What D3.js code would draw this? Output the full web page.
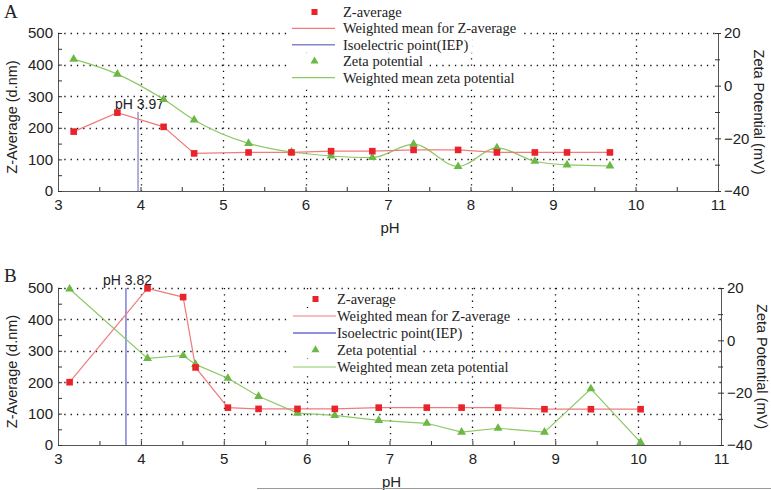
<!DOCTYPE html>
<html>
<head>
<meta charset="utf-8">
<script src="https://cdn.jsdelivr.net/npm/d3@7/dist/d3.min.js"></script>
<style>
  html, body { margin: 0; padding: 0; background: #fff; }
  svg { display: block; }
  .tick text { font-family: "Liberation Sans", Arial, sans-serif; font-size: 14px; fill: #222; }
</style>
</head>
<body>
<svg id="chart" width="771" height="490"></svg>
<script>
// ---------------- DATA ----------------
const phTicks = [3, 4, 5, 6, 7, 8, 9, 10, 11];
const phMinorTicks = [3.5, 4.5, 5.5, 6.5, 7.5, 8.5, 9.5, 10.5];
const zTicks = [0, 100, 200, 300, 400, 500];
const zMinorTicks = [50, 150, 250, 350, 450];
const zetaTicks = [-40, -20, 0, 20];
const zetaMinorTicks = [-30, -10, 10];
const zGridValues = [100, 200, 300, 400, 500];
const phGridValues = [4, 5, 6, 7, 8, 9, 10];

const legendLabels = ["Z-average", "Weighted mean for Z-average", "Isoelectric point(IEP)", "Zeta potential", "Weighted mean zeta potential"];

// Panel A
const phA = [3.19, 3.72, 4.28, 4.65, 5.31, 5.83, 6.31, 6.81, 7.31, 7.85, 8.32, 8.78, 9.17, 9.69];
const zA = [188, 248, 203, 119, 122, 122, 126, 126, 130, 130, 122, 122, 122, 122];
const zetaA = [10.1, 4.4, -5.2, -13.0, -21.9, -25.2, -26.7, -27.3, -22.2, -30.7, -23.6, -28.7, -30.1, -30.5];
const iepA = 3.97;
const iepTopA = 250;
const iepLabelA = "pH 3.97";

// Panel B
const phB = [3.14, 4.08, 4.51, 4.66, 5.05, 5.42, 5.89, 6.34, 6.87, 7.45, 7.87, 8.31, 8.87, 9.43, 10.03];
const zB = [200, 499, 471, 247, 119, 115, 115, 115, 119, 119, 119, 119, 114, 114, 114];
const zetaB = [19.6, -6.9, -5.8, -9.2, -14.5, -21.4, -27.8, -28.7, -30.6, -31.7, -35.1, -33.6, -35.1, -18.5, -39.0];
const iepB = 3.82;
const iepTopB = 500;
const iepLabelB = "pH 3.82";

// ---------------- DRAW ----------------
const svg = d3.select("#chart");
const sans = '"Liberation Sans", Arial, sans-serif';
const serif = '"Liberation Serif", "Times New Roman", serif';
const RED = "#e8232b", RED_LINE = "#ef7b7b";
const GREEN = "#6cb844", GREEN_LINE = "#8cc865";

function panel(cfg) {
  const x = d3.scaleLinear().domain([3, 11]).range([cfg.x0, cfg.x1]);
  const yL = d3.scaleLinear().domain([0, 500]).range([cfg.yb, cfg.yt]);
  const yR = d3.scaleLinear().domain([-40, 20]).range([cfg.yb, cfg.yt]);
  const g = svg.append("g");

  // grid
  const grid = g.append("g").attr("stroke", "#111").attr("stroke-width", 1.3)
    .attr("stroke-dasharray", "1.3,5").attr("fill", "none");
  grid.selectAll("line.h").data(zGridValues).join("line")
    .attr("x1", cfg.x0).attr("x2", cfg.x1)
    .attr("y1", d => Math.round(yL(d)) + 0.5).attr("y2", d => Math.round(yL(d)) + 0.5);
  grid.selectAll("line.v").data(phGridValues).join("line")
    .attr("y1", cfg.yt).attr("y2", cfg.yb)
    .attr("x1", d => Math.round(x(d)) + 0.5).attr("x2", d => Math.round(x(d)) + 0.5);

  // axes
  const axStyle = sel => { sel.selectAll("path, line").attr("stroke", "#333"); sel.select(".domain").attr("stroke", "#555"); };
  const gx = g.append("g").attr("transform", `translate(0,${cfg.yb})`)
    .call(d3.axisBottom(x).tickValues(phTicks).tickFormat(d3.format("d")).tickSizeInner(-4).tickSizeOuter(0).tickPadding(8));
  gx.call(axStyle);
  gx.selectAll(".tick text").style("font-size", "15px");
  g.append("g").attr("transform", `translate(0,${cfg.yb})`)
    .call(d3.axisBottom(x).tickValues(phMinorTicks).tickFormat("").tickSizeInner(-4).tickSizeOuter(0))
    .call(axStyle).select(".domain").remove();

  const gl = g.append("g").attr("transform", `translate(${cfg.x0},0)`)
    .call(d3.axisLeft(yL).tickValues(zTicks).tickSizeInner(-4).tickSizeOuter(0).tickPadding(5));
  gl.call(axStyle);
  gl.selectAll(".tick text").style("font-size", "15px");
  g.append("g").attr("transform", `translate(${cfg.x0},0)`)
    .call(d3.axisLeft(yL).tickValues(zMinorTicks).tickFormat("").tickSizeInner(-4).tickSizeOuter(0))
    .call(axStyle).select(".domain").remove();

  const gr = g.append("g").attr("transform", `translate(${cfg.x1},0)`)
    .call(d3.axisRight(yR).tickValues(zetaTicks).tickSizeInner(3).tickSizeOuter(0).tickPadding(3));
  gr.call(axStyle);
  gr.selectAll(".tick text").style("font-size", "15px");
  g.append("g").attr("transform", `translate(${cfg.x1},0)`)
    .call(d3.axisRight(yR).tickValues(zetaTicks.concat(zetaMinorTicks)).tickFormat("").tickSizeInner(-3).tickSizeOuter(0))
    .call(axStyle).select(".domain").remove();
  g.append("g").attr("transform", `translate(${cfg.x1},0)`)
    .call(d3.axisRight(yR).tickValues(zetaMinorTicks).tickFormat("").tickSizeInner(2).tickSizeOuter(0))
    .call(axStyle).select(".domain").remove();

  // axis titles
  g.append("text").attr("x", (cfg.x0 + cfg.x1) / 2 + 2).attr("y", cfg.yb + 42)
    .attr("text-anchor", "middle").attr("font-family", sans).attr("font-size", 15).attr("fill", "#222").text("pH");
  g.append("text").attr("transform", `translate(${17},${(cfg.yt + cfg.yb) / 2 + 5}) rotate(-90)`)
    .attr("text-anchor", "middle").attr("font-family", sans).attr("font-size", 14.5).attr("fill", "#222").text("Z-Average (d.nm)");
  g.append("text").attr("transform", `translate(${cfg.x1 + 36},${(cfg.yt + cfg.yb) / 2}) rotate(90)`)
    .attr("text-anchor", "middle").attr("font-family", sans).attr("font-size", 14.5).attr("fill", "#222").text("Zeta Potential (mV)");

  // panel letter
  g.append("text").attr("x", 4).attr("y", cfg.letterY).attr("font-family", serif).attr("font-size", 19)
    .attr("fill", "#222").text(cfg.letter);

  // IEP line
  g.append("line").attr("x1", x(cfg.iep)).attr("x2", x(cfg.iep))
    .attr("y1", cfg.yb).attr("y2", yL(cfg.iepTop)).attr("stroke", cfg.iepColor).attr("stroke-width", 1.3);
  g.append("text").attr("x", x(cfg.iep) - 23).attr("y", yL(cfg.iepTop) - 3 + cfg.iepLabelDy)
    .attr("font-family", sans).attr("font-size", 14).attr("fill", "#222").text(cfg.iepLabel);

  const zData = cfg.ph.map((p, i) => [p, cfg.z[i]]);
  const zetaData = cfg.ph.map((p, i) => [p, cfg.zeta[i]]);

  // lines
  g.append("path").datum(zetaData).attr("fill", "none").attr("stroke", GREEN_LINE).attr("stroke-width", 1.2)
    .attr("d", d3.line().x(d => x(d[0])).y(d => yR(d[1])).curve(cfg.zetaCurve));
  g.append("path").datum(zData).attr("fill", "none").attr("stroke", RED_LINE).attr("stroke-width", 1.2)
    .attr("d", d3.line().x(d => x(d[0])).y(d => yL(d[1])));

  // markers
  const tri = d3.symbol().type(d3.symbolTriangle).size(34);
  g.selectAll("path.tri").data(zetaData).join("path").attr("class", "tri")
    .attr("transform", d => `translate(${x(d[0])},${yR(d[1])})`).attr("d", tri).attr("fill", GREEN);
  g.selectAll("rect.sq").data(zData).join("rect").attr("class", "sq")
    .attr("x", d => x(d[0]) - 3.3).attr("y", d => yL(d[1]) - 3.3).attr("width", 6.6).attr("height", 6.6).attr("fill", RED);

  // legend
  const lg = g.append("g").attr("transform", `translate(${cfg.legX},${cfg.legY})`);
  legendLabels.forEach((lab, i) => {
    const row = lg.append("g").attr("transform", `translate(0,${i * cfg.legStep})`);
    const bg = row.append("rect").attr("fill", "#fff");
    const t = row.append("text").attr("x", cfg.legTextX).attr("y", 5).attr("font-family", serif)
      .attr("font-size", 14.5).attr("fill", "#222").text(lab);
    const w = t.node().getComputedTextLength();
    bg.attr("x", -4).attr("y", -8).attr("width", cfg.legTextX + w + 8).attr("height", 16);
    if (i === 0) row.append("rect").attr("x", 19.5).attr("y", -3).attr("width", 6).attr("height", 6).attr("fill", RED);
    if (i === 1) row.append("line").attr("x1", 0).attr("x2", 43).attr("stroke", RED_LINE).attr("stroke-width", 1.2);
    if (i === 2) row.append("line").attr("x1", 0).attr("x2", 43).attr("stroke", cfg.iepColor).attr("stroke-width", 1.5);
    if (i === 3) row.append("path").attr("transform", "translate(22.5,0)").attr("d", d3.symbol().type(d3.symbolTriangle).size(28)()).attr("fill", GREEN);
    if (i === 4) row.append("line").attr("x1", 0).attr("x2", 43).attr("stroke", GREEN_LINE).attr("stroke-width", 1.2);
  });
}

panel({ letter: "A", letterY: 18, x0: 58, x1: 718, yt: 33, yb: 191,
  ph: phA, z: zA, zeta: zetaA, iep: iepA, iepTop: iepTopA, iepLabel: iepLabelA, iepLabelDy: 0,
  iepColor: "#8585c8", zetaCurve: d3.curveMonotoneX,
  legX: 292, legY: 12, legStep: 16.4, legTextX: 51 });

panel({ letter: "B", letterY: 282, x0: 58, x1: 721, yt: 288, yb: 445,
  ph: phB, z: zB, zeta: zetaB, iep: iepB, iepTop: iepTopB, iepLabel: iepLabelB, iepLabelDy: 0,
  iepColor: "#6b6bd6", zetaCurve: d3.curveLinear,
  legX: 293, legY: 299, legStep: 17, legTextX: 44 });

// bottom rule
svg.append("line").attr("x1", 257).attr("x2", 771).attr("y1", 488.5).attr("y2", 488.5)
  .attr("stroke", "#9a9a9a").attr("stroke-width", 1.2);
</script>
</body>
</html>
